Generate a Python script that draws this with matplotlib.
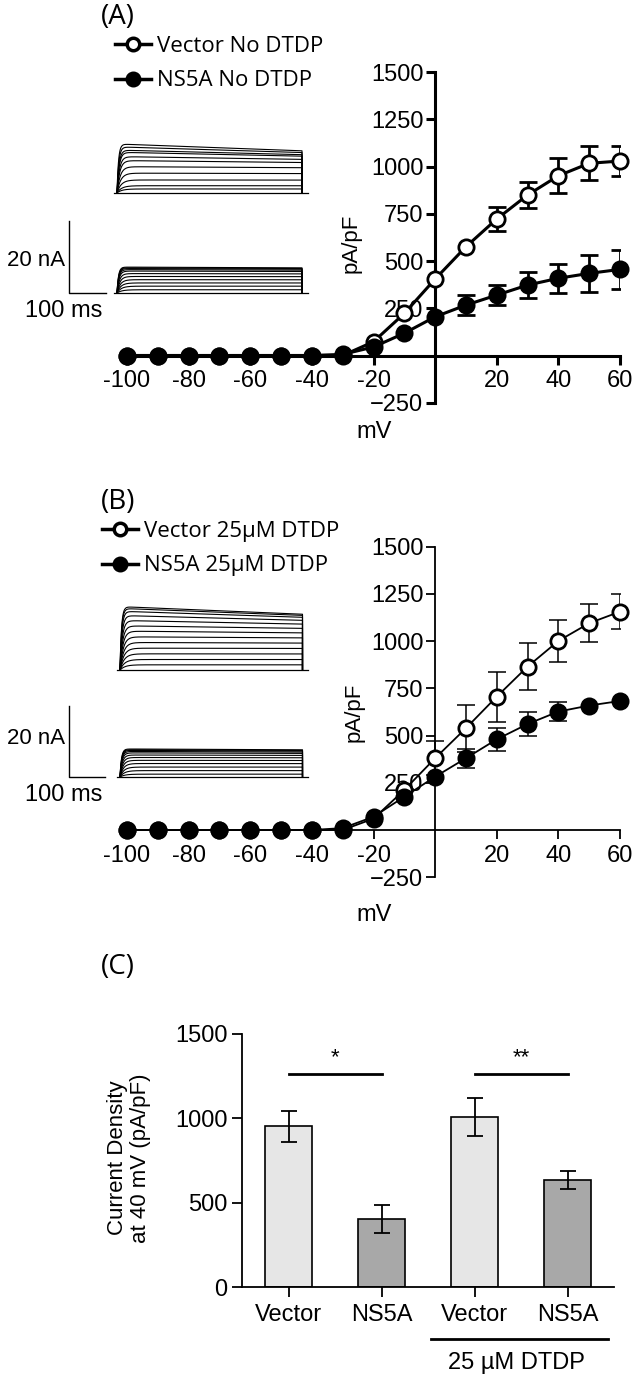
import matplotlib.pyplot as plt
import numpy as np
from matplotlib.lines import Line2D

plt.rcParams['font.family'] = ['Liberation Sans', 'DejaVu Sans']

W, H = 633, 1377

# I-V data (mV vs pA/pF)
mv = [-100, -90, -80, -70, -60, -50, -40, -30, -20, -10, 0, 10, 20, 30, 40, 50, 60]

vec_a = [0, 0, 0, 0, 0, 0, 0, 0, 73, 223, 405, 576, 723, 850, 952, 1018, 1030]
vec_a_err = [0, 0, 0, 0, 0, 0, 0, 0, 0, 0, 0, 0, 62, 70, 93, 91, 77]
ns_a = [0, 0, 0, 0, 0, 0, 0, 6, 45, 118, 205, 267, 320, 373, 409, 435, 456]
ns_a_err = [0, 0, 0, 0, 0, 0, 0, 0, 0, 0, 0, 55, 55, 70, 77, 97, 102]

vec_b = [0, 0, 0, 0, 0, 0, 0, 0, 60, 212, 380, 539, 706, 865, 1001, 1095, 1156]
vec_b_err = [0, 0, 0, 0, 0, 0, 0, 0, 0, 0, 90, 125, 132, 123, 110, 99, 91]
ns_b = [0, 0, 0, 0, 0, 0, 0, 10, 70, 176, 282, 380, 480, 561, 627, 659, 683]
ns_b_err = [0, 0, 0, 0, 0, 0, 0, 0, 0, 0, 0, 50, 60, 62, 50, 0, 0]

# example current traces: step amplitudes (nA)
a_top_amp = [1.1, 2.0, 3.6, 5.5, 7.3, 9.0, 10.1, 11.3, 11.9, 12.8, 13.6]
a_bot_amp = [0.9, 1.9, 2.8, 3.7, 4.6, 5.4, 6.1, 6.5, 6.8, 7.0, 7.2]
b_top_amp = [1.5, 3.0, 4.6, 6.2, 7.8, 9.4, 11.0, 12.5, 14.0, 15.4, 16.6, 17.4, 17.9]
b_bot_amp = [0.8, 1.8, 2.8, 3.8, 4.7, 5.5, 6.2, 6.8, 7.2, 7.5, 7.7, 7.9]

# panel C: current density at 40 mV
groups = ['Vector', 'NS5A', 'Vector', 'NS5A']
density = [952, 403, 1006, 636]
density_err = [91, 84, 112, 53]
bar_colors = ['#e6e6e6', '#a8a8a8', '#e6e6e6', '#a8a8a8']


def rect(l, t, r, b):
    return [l / W, 1 - b / H, (r - l) / W, (b - t) / H]


def fx(px):
    return px / W


def fy(py):
    return 1 - py / H


fig = plt.figure(figsize=(W / 100, H / 100), dpi=100)


def iv_panel(box, vec, vec_err, ns, ns_err, lw, elw):
    ax = fig.add_axes(box)
    ax.set_xlim(-100, 60)
    ax.set_ylim(-250, 1500)
    for s in ['top', 'right']:
        ax.spines[s].set_visible(False)
    ax.spines['left'].set_position(('data', 0))
    ax.spines['bottom'].set_position(('data', 0))
    ax.spines['left'].set_linewidth(lw)
    ax.spines['bottom'].set_linewidth(lw)
    ax.set_xticks([-100, -80, -60, -40, -20, 20, 40, 60])
    ax.set_xticklabels(['-100', '-80', '-60', '-40', '-20', '20', '40', '60'])
    ax.set_yticks([-250, 250, 500, 750, 1000, 1250, 1500])
    ax.tick_params(axis='both', labelsize=17, width=lw, length=6.5)
    ax.tick_params(axis='y', pad=2)
    ax.tick_params(axis='x', pad=4)

    x = np.array(mv)
    for y, e, face, z in [(vec, vec_err, 'white', 3), (ns, ns_err, 'black', 4)]:
        y = np.array(y)
        e = np.array(e)
        m = e > 0
        ax.errorbar(x[m], y[m], yerr=e[m], fmt='none', ecolor='k',
                    elinewidth=elw, capsize=6.5, capthick=elw, zorder=z)
        ax.plot(x, y, '-o', color='k', lw=lw, ms=11, mfc=face, mec='k',
                mew=2, zorder=z + 0.5, clip_on=False)
    return ax


def traces(box, t0_px, px_ms, base_px, px_na, fams, bar_t):
    ax = fig.add_axes(rect(*box))
    l, t, r, b = box
    ax.set_xlim((l - t0_px) / px_ms, (r - t0_px) / px_ms)
    ax.set_ylim((base_px - b) / px_na, (base_px - t) / px_na)
    ax.axis('off')
    tt = np.linspace(0, 500, 400)
    for off, amps, decay in fams:
        ax.plot([-8, 515], [off, off], color='k', lw=0.9)
        top = max(amps)
        for a in amps:
            tau = 14 - 10 * a / top
            d = decay * (a / top) ** 2
            y = a * (1 - np.exp(-tt / tau)) * (1 - d * tt / 500)
            ax.plot(np.r_[0, tt, 500], off + np.r_[0, y, 0], color='k', lw=0.8)
    ax.plot([bar_t, bar_t, bar_t + 100], [20, 0, 0], color='k', lw=1.0)
    return ax


# ---------------- panel A ----------------
iv_panel(rect(127, 72.3, 620, 402.7), vec_a, vec_a_err, ns_a, ns_a_err, 2.2, 2.0)
traces((40, 130, 320, 300), 117, 0.37, 293, 3.6,
       [(0, a_bot_amp, 0.03), (27.8, a_top_amp, 0.14)], -130)

# ---------------- panel B ----------------
iv_panel(rect(127, 546.7, 620, 877.2), vec_b, vec_b_err, ns_b, ns_b_err, 1.3, 1.1)
traces((40, 595, 320, 785), 120, 0.365, 777, 3.55,
       [(0, b_bot_amp, 0.03), (30.1, b_top_amp, 0.12)], -140)

# text for panels A and B
for top, lab, names, mx in [(0, '(A)', ['Vector No DTDP', 'NS5A No DTDP'], 115),
                            (485, '(B)', ['Vector 25µM DTDP', 'NS5A 25µM DTDP'], 102)]:
    fig.text(fx(101), fy(top + 17), lab, fontsize=20, family='Open Sans', va='center')
    handles = [Line2D([], [], color='k', lw=2.5, marker='o', ms=9, mfc='white', mec='k', mew=2.5),
               Line2D([], [], color='k', lw=2.5, marker='o', ms=9, mfc='black', mec='k', mew=2.5)]
    fig.legend(handles, names, loc='upper left', bbox_to_anchor=(fx(mx), fy(top + 36)),
               frameon=False, borderpad=0, borderaxespad=0, handlelength=1.6,
               handletextpad=0.3, labelspacing=0.6,
               prop={'family': 'Open Sans', 'size': 16})

fig.text(fx(351), fy(243), 'pA/pF', rotation=90, fontsize=16, ha='center', va='center')
fig.text(fx(354), fy(712), 'pA/pF', rotation=90, fontsize=16, ha='center', va='center')
fig.text(fx(374), fy(432), 'mV', fontsize=17, ha='center', va='center')
fig.text(fx(374), fy(915), 'mV', fontsize=17, ha='center', va='center')
for yb, yl in [(260, 311), (738, 795)]:
    fig.text(fx(65), fy(yb), '20 nA', fontsize=16, ha='right', va='center')
    fig.text(fx(64), fy(yl), '100 ms', fontsize=17, ha='center', va='center')

# ---------------- panel C ----------------
fig.text(fx(101), fy(967), '(C)', fontsize=20, family='Open Sans', va='center')
axc = fig.add_axes(rect(242, 1034, 614, 1287))
pos = np.arange(len(groups))
axc.bar(pos, density, width=0.5, color=bar_colors, edgecolor='k', linewidth=1.2,
        yerr=density_err, capsize=6, error_kw=dict(elinewidth=1.3, capthick=1.3), zorder=2)
axc.set_xlim(-0.5, 3.5)
axc.set_ylim(0, 1500)
axc.set_yticks([0, 500, 1000, 1500])
axc.set_xticks(pos)
axc.set_xticklabels(groups)
for s in ['top', 'right']:
    axc.spines[s].set_visible(False)
for s in ['left', 'bottom']:
    axc.spines[s].set_linewidth(1.3)
axc.tick_params(axis='both', labelsize=17, width=1.3, length=7)
axc.tick_params(axis='x', pad=5)

sig_y = 1265
axc.plot([0, 1], [sig_y, sig_y], color='k', lw=2, clip_on=False)
axc.plot([2, 3], [sig_y, sig_y], color='k', lw=2, clip_on=False)
axc.text(0.5, sig_y + 30, '*', fontsize=16, ha='center', va='bottom')
axc.text(2.5, sig_y + 30, '**', fontsize=16, ha='center', va='bottom')
axc.plot([1.53, 3.44], [-308, -308], color='k', lw=2, clip_on=False)
axc.text(2.45, -450, '25 µM DTDP', fontsize=17, ha='center', va='center')

fig.text(fx(129), fy(1158), 'Current Density\nat 40 mV (pA/pF)', rotation=90,
         fontsize=16, ha='center', va='center', multialignment='center', linespacing=1.15)

fig.savefig('out.png', dpi=100)
